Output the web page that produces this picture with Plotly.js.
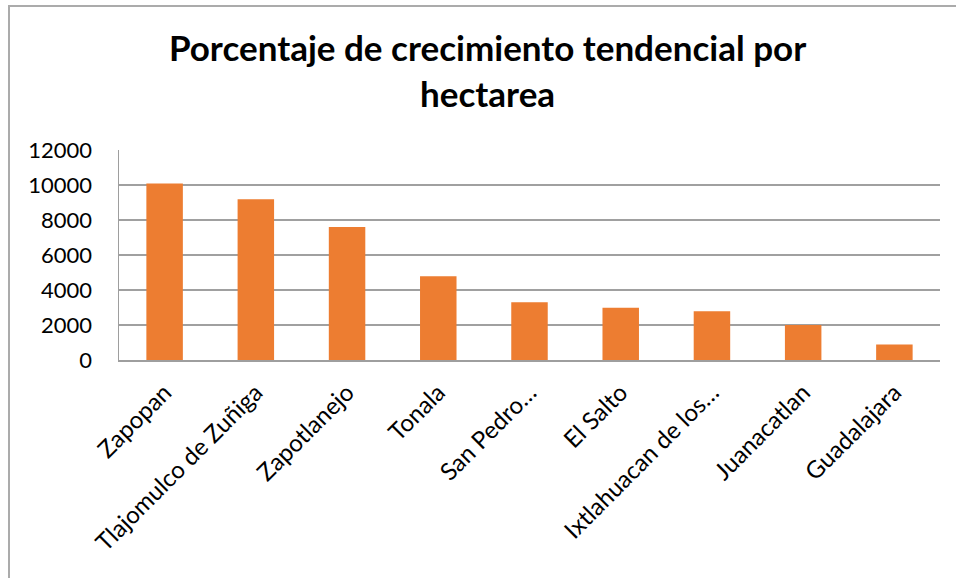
<!DOCTYPE html>
<html>
<head>
<meta charset="utf-8">
<script src="https://cdn.plot.ly/plotly-3.0.1.min.js"></script>
<style>
html,body{margin:0;padding:0;background:#fff;overflow:hidden;}
#frame{position:absolute;left:8px;top:5px;width:960px;height:600px;border-left:2px solid #ababab;border-top:2px solid #ababab;pointer-events:none;z-index:5;}
#chart{position:absolute;left:0;top:0;width:956px;height:578px;}
</style>
</head>
<body>
<div id="chart"></div>
<div id="frame"></div>
<script>
const categories = ["Zapopan","Tlajomulco de Zuñiga","Zapotlanejo","Tonala","San Pedro…","El Salto","Ixtlahuacan de los…","Juanacatlan","Guadalajara"];
const values = [10080, 9190, 7600, 4790, 3300, 2980, 2790, 1995, 890];
const yTicks = [0, 2000, 4000, 6000, 8000, 10000, 12000];

const font = "Lato, 'Open Sans', sans-serif";
Plotly.newPlot('chart', [{
  type: 'bar',
  x: categories,
  y: values,
  marker: {color: '#ED7D31'},
  hoverinfo: 'none'
}], {
  width: 956, height: 578,
  margin: {l: 119, r: 16, t: 150, b: 218},
  paper_bgcolor: '#fff', plot_bgcolor: '#fff',
  bargap: 0.6,
  showlegend: false,
  title: {
    text: '<b>Porcentaje de crecimiento tendencial por<br>hectarea</b>',
    font: {family: font, size: 35, color: '#000'},
    x: 0.51, xanchor: 'center', y: 0.894, yanchor: 'top', yref: 'container'
  },
  xaxis: {
    type: 'category',
    tickangle: -45,
    tickfont: {family: font, size: 24, color: '#000'},
    showline: true, linecolor: '#9e9e9e', linewidth: 2,
    ticks: '', showgrid: false, fixedrange: true, ticklabelstandoff: 7
  },
  yaxis: {
    range: [0, 12000],
    tickvals: yTicks,
    tickformat: 'd',
    tickfont: {family: font, size: 22, color: '#000'},
    showgrid: true, gridcolor: '#a0a0a0', gridwidth: 1.5,
    showline: true, linecolor: '#9e9e9e', linewidth: 1.5,
    zeroline: false, ticks: '', ticklabelstandoff: 21, fixedrange: true
  }
}, {displayModeBar: false, staticPlot: true});
</script>
</body>
</html>
